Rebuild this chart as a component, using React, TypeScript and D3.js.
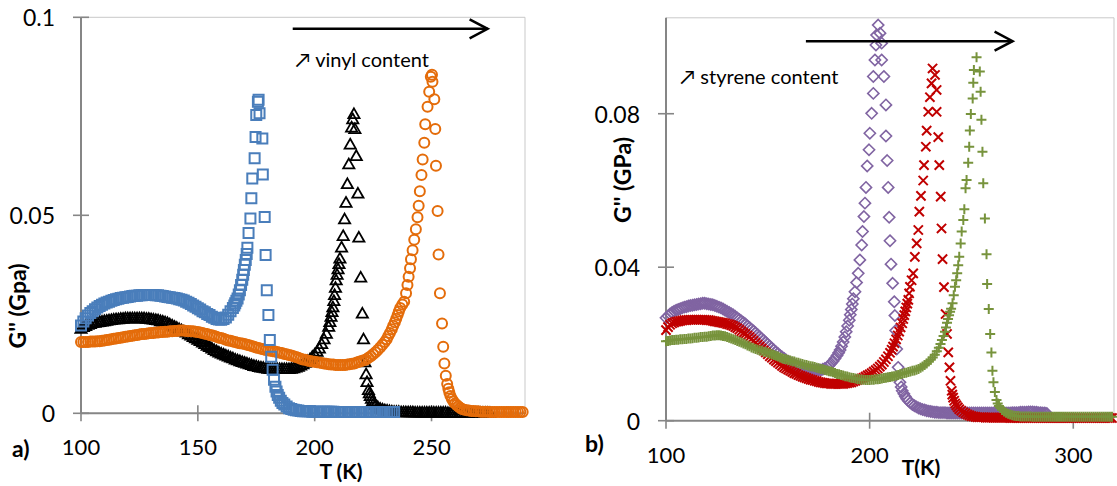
import React from "react";
import * as d3 from "d3";

type P = [number, number];

// ---------- ticks ----------
const xTicksA = [100, 150, 200, 250];
const yTicksA = [0, 0.05, 0.1];
const xTicksB = [100, 200, 300];
const yTicksB = [0, 0.04, 0.08];

// ---------- panel a) data: [T (K), G'' (GPa)] ----------
const blueSquares: P[] = [
  [100,.0222],[101,.0232],[102,.0240],[103,.0247],[104,.0253],[105,.0258],[106,.0263],[107,.0267],[108,.0271],[109,.0274],
  [110,.0277],[111,.0280],[112,.0282],[113,.0284],[114,.0286],[115,.0288],[116,.0289],[117,.0291],[118,.0292],[119,.0293],
  [120,.0294],[121,.0295],[122,.0296],[123,.0297],[124,.0297],[125,.0298],[126,.0298],[127,.0299],[128,.0299],[129,.0299],
  [130,.0299],[131,.0299],[132,.0298],[133,.0298],[134,.0297],[135,.0296],[136,.0295],[137,.0294],[138,.0293],[139,.0292],
  [140,.0291],[141,.0290],[142,.0288],[143,.0287],[144,.0285],[145,.0282],[146,.0279],[147,.0276],[148,.0272],[149,.0269],
  [150,.0265],[151,.0262],[152,.0258],[153,.0255],[154,.0251],[155,.0248],[156,.0244],[157,.0241],[158,.0238],[159,.0237],
  [160,.0236],[161,.0238],[162,.0242],[163,.0249],[164,.0258],[165,.0266],[165.6,.0272],[166,.0278],[166.5,.0284],[167,.0290],
  [167.5,.0300],[168,.0311],[168.5,.0324],[169,.0337],[169.4,.0350],[169.7,.0362],[170.1,.0375],[170.5,.0387],[170.9,.0402],
  [171.2,.0418],[171.7,.0455],[172.5,.0492],[172.9,.0543],[173.3,.0593],[174.3,.0644],[174.7,.0698],[175,.0753],[175.7,.0787],
  [176,.0792],[176.4,.0758],[177.6,.0694],[177.8,.0603],[178.6,.0496],[179,.0400],[179.5,.0311],[180.2,.0248],[180.8,.0185],
  [181.4,.0143],[182,.0110],[182.6,.0085],[183.2,.0067],[183.7,.0055],[184.2,.0046],[184.8,.0039],[185.5,.0032],[186.2,.0026],
  [187,.0022],[188,.0017],[189,.0013],[190,.0011],[191,.0009],[192,.0008],[193,.0007],[194,.0006],[195,.0005],[196,.0005],
  [197,.0005],[198,.0005],[199,.0004],[200,.0004],[201,.0004],[202,.0004],[203,.0004],[204,.0004],[205,.0004],[206,.0004],
  [207,.0004],[208,.0004],[209,.0003],[210,.0003],[211,.0003],[212,.0003],[213,.0003],[214,.0003],[215,.0003],[216,.0003],
  [217,.0003],[218,.0003],[219,.0003],[220,.0003],[221,.0003],[222,.0003],[223,.0003],[224,.0003],[225,.0003],[226,.0003],
  [227,.0003],[228,.0003],[229,.0003],[230,.0003],[231,.0003],[232,.0003],[233,.0003],[234,.0003],
];

const blackTriangles: P[] = [
  [100,.0215],[101,.0219],[102,.0222],[103,.0225],[104,.0227],[105,.0229],[106,.0230],[107,.0231],[108,.0232],[109,.0233],
  [110,.0234],[111,.0235],[112,.0236],[113,.0237],[114,.0238],[115,.0239],[116,.0239],[117,.0240],[118,.0240],[119,.0241],
  [120,.0241],[121,.0241],[122,.0241],[123,.0241],[124,.0241],[125,.0241],[126,.0241],[127,.0241],[128,.0240],[129,.0240],
  [130,.0239],[131,.0238],[132,.0237],[133,.0236],[134,.0234],[135,.0233],[136,.0231],[137,.0229],[138,.0226],[139,.0223],
  [140,.0220],[141,.0217],[142,.0214],[143,.0211],[144,.0208],[145,.0205],[146,.0201],[147,.0198],[148,.0194],[149,.0191],
  [150,.0187],[151,.0184],[152,.0180],[153,.0176],[154,.0172],[155,.0169],[156,.0165],[157,.0161],[158,.0158],[159,.0155],
  [160,.0152],[161,.0150],[162,.0147],[163,.0145],[164,.0142],[165,.0140],[166,.0137],[167,.0135],[168,.0133],[169,.0131],
  [170,.0129],[171,.0127],[172,.0125],[173,.0123],[174,.0121],[175,.0120],[176,.0118],[177,.0117],[178,.0116],[179,.0115],
  [180,.0114],[181,.0113],[182,.0113],[183,.0113],[184,.0113],[185,.0113],[186,.0113],[187,.0113],[188,.0113],[189,.0113],
  [190,.0114],[191,.0115],[192,.0117],[193,.0119],[194,.0122],[195,.0125],[196,.0129],[197,.0133],[198,.0138],[199,.0144],
  [200,.0150],[201,.0157],[202,.0165],[203,.0176],[204,.0188],[205,.0202],[206,.0220],[206.5,.0232],[207,.0245],[207.4,.0257],
  [207.8,.0269],[208.2,.0285],[208.5,.0300],[208.9,.0318],[209.2,.0337],[209.6,.0351],[210,.0365],[210.4,.0378],[210.8,.0392],
  [211.5,.0420],[212.2,.0449],[212.8,.0491],[213.4,.0533],[214,.0580],[214.6,.0630],[215.2,.0680],[215.8,.0723],[216.3,.0744],
  [216.8,.0757],[217.2,.0719],[217.8,.0651],[218.5,.0556],[218.9,.0445],[219.7,.0344],[220.4,.0253],[220.9,.0188],[221.5,.0130],
  [222,.0100],[222.4,.0080],[223,.0060],[223.4,.0052],[223.8,.0045],[224.3,.0038],[224.8,.0032],[225.4,.0027],[226,.0022],
  [227,.0017],[228,.0013],[229,.0011],[230,.0009],[231,.0008],[232,.0007],[233,.0006],[234,.0005],[235,.0005],[236,.0005],
  [237,.0004],[238,.0004],[239,.0004],[240,.0004],[241,.0004],[242,.0004],[243,.0003],[244,.0003],[245,.0003],[246,.0003],
  [247,.0003],[248,.0003],[249,.0003],[250,.0003],[251,.0003],[252,.0003],[253,.0003],[254,.0003],[255,.0003],[256,.0003],
  [257,.0002],[258,.0002],[259,.0002],[260,.0002],[261,.0002],[262,.0002],[263,.0002],[264,.0002],[265,.0002],[266,.0002],
  [267,.0002],[268,.0002],[269,.0002],[270,.0002],[271,.0002],[272,.0002],[273,.0002],[274,.0002],[275,.0002],
];

const orangeCircles: P[] = [
  [100,.0180],[101,.0180],[102,.0180],[103,.0180],[104,.0181],[105,.0181],[106,.0181],[107,.0182],[108,.0182],[109,.0183],
  [110,.0184],[111,.0185],[112,.0186],[113,.0187],[114,.0188],[115,.0189],[116,.0190],[117,.0191],[118,.0192],[119,.0193],
  [120,.0194],[121,.0195],[122,.0196],[123,.0197],[124,.0198],[125,.0199],[126,.0200],[127,.0200],[128,.0201],[129,.0202],
  [130,.0203],[131,.0203],[132,.0204],[133,.0204],[134,.0205],[135,.0205],[136,.0206],[137,.0206],[138,.0207],[139,.0207],
  [140,.0208],[141,.0208],[142,.0209],[143,.0209],[144,.0209],[145,.0208],[146,.0208],[147,.0207],[148,.0207],[149,.0206],
  [150,.0205],[151,.0204],[152,.0203],[153,.0201],[154,.0200],[155,.0198],[156,.0197],[157,.0195],[158,.0193],[159,.0191],
  [160,.0190],[161,.0188],[162,.0186],[163,.0184],[164,.0183],[165,.0181],[166,.0180],[167,.0178],[168,.0177],[169,.0176],
  [170,.0175],[171,.0173],[172,.0172],[173,.0170],[174,.0168],[175,.0166],[176,.0165],[177,.0163],[178,.0162],[179,.0160],
  [180,.0159],[181,.0158],[182,.0157],[183,.0156],[184,.0155],[185,.0153],[186,.0152],[187,.0150],[188,.0149],[189,.0147],
  [190,.0146],[191,.0144],[192,.0142],[193,.0140],[194,.0138],[195,.0136],[196,.0135],[197,.0133],[198,.0132],[199,.0131],
  [200,.0130],[201,.0129],[202,.0128],[203,.0127],[204,.0126],[205,.0125],[206,.0124],[207,.0123],[208,.0123],[209,.0122],
  [210,.0122],[211,.0122],[212,.0122],[213,.0122],[214,.0123],[215,.0124],[216,.0125],[217,.0126],[218,.0128],[219,.0130],
  [220,.0132],[221,.0134],[222,.0136],[223,.0140],[224,.0144],[225,.0149],[226,.0154],[227,.0160],[228,.0166],[229,.0173],
  [230,.0180],[230.8,.0187],[231.5,.0195],[232.2,.0203],[233,.0212],[233.6,.0221],[234.3,.0230],[234.9,.0239],[235.5,.0248],
  [236,.0257],[236.6,.0266],[237.5,.0275],[238.3,.0282],[239.1,.0303],[239.7,.0324],[240.2,.0345],[240.8,.0366],[241.2,.0389],
  [241.9,.0412],[242.6,.0438],[243.3,.0465],[244,.0495],[244.5,.0524],[245,.0561],[245.7,.0602],[246.2,.0641],[246.9,.0683],
  [247.3,.0730],[248.3,.0774],[249,.0812],[249.7,.0850],[250.2,.0855],[250.4,.0837],[251.2,.0793],[251.6,.0718],[251.9,.0625],
  [252.6,.0511],[253,.0401],[253.6,.0303],[254.5,.0227],[255,.0168],[255.5,.0126],[256.1,.0095],[256.7,.0074],[257.2,.0062],
  [257.6,.0053],[258.1,.0044],[258.7,.0036],[259.4,.0030],[260,.0025],[260.8,.0021],[261.5,.0017],[262.2,.0014],[263,.0011],
  [264,.0009],[265,.0008],[266,.0007],[267,.0006],[268,.0006],[269,.0005],[270,.0005],[271,.0004],[272,.0004],[273,.0004],
  [274,.0004],[275,.0003],[276,.0003],[277,.0003],[278,.0003],[279,.0003],[280,.0003],[281,.0003],[282,.0003],[283,.0003],
  [284,.0003],[285,.0003],[286,.0003],[287,.0003],[288,.0003],[289,.0003],
];

// ---------- panel b) data ----------
const purpleDiamonds: P[] = [
  [100,.0268],[101,.0273],[102,.0278],[103,.0282],[104,.0285],[105,.0288],[106,.0290],[107,.0292],[108,.0294],[109,.0296],
  [110,.0297],[111,.0299],[112,.0300],[113,.0301],[114,.0302],[115,.0303],[116,.0304],[117,.0305],[118,.0306],[119,.0306],
  [120,.0305],[121,.0304],[122,.0303],[123,.0302],[124,.0300],[125,.0298],[126,.0296],[127,.0294],[128,.0291],[129,.0288],
  [130,.0285],[131,.0282],[132,.0279],[133,.0276],[134,.0272],[135,.0268],[136,.0264],[137,.0260],[138,.0256],[139,.0252],
  [140,.0247],[141,.0243],[142,.0238],[143,.0234],[144,.0229],[145,.0224],[146,.0219],[147,.0214],[148,.0209],[149,.0204],
  [150,.0199],[151,.0194],[152,.0189],[153,.0184],[154,.0179],[155,.0175],[156,.0170],[157,.0166],[158,.0162],[159,.0158],
  [160,.0155],[161,.0152],[162,.0149],[163,.0146],[164,.0144],[165,.0142],[166,.0140],[167,.0138],[168,.0136],[169,.0135],
  [170,.0134],[171,.0133],[172,.0133],[173,.0132],[174,.0132],[175,.0132],[176,.0132],[177,.0134],[178,.0136],[179,.0139],
  [180,.0143],[181,.0149],[182,.0155],[183,.0162],[184,.0170],[184.8,.0177],[185.5,.0184],[186.2,.0194],[187,.0205],
  [187.8,.0218],[188.5,.0232],[189.2,.0247],[190,.0262],[190.5,.0276],[191,.0290],[191.5,.0304],[192,.0318],[192.8,.0336],
  [193.6,.0360],[194.4,.0384],[195.2,.0419],[196.1,.0458],[196.5,.0493],[197.2,.0532],[197.7,.0567],[198.2,.0608],
  [198.8,.0664],[199.7,.0706],[200.1,.0749],[201,.0801],[201.8,.0853],[201.8,.0897],[202.6,.0940],[203.1,.0979],[203.4,.1005],
  [204.2,.1031],[205.1,.1010],[205.9,.0984],[205.9,.0940],[207,.0897],[208,.0823],[208,.0742],[208.6,.0678],[209.1,.0608],
  [209.6,.0530],[210,.0469],[210.5,.0408],[211.3,.0358],[212.1,.0310],[212.4,.0274],[212.8,.0235],[213.3,.0187],[214,.0139],
  [214.9,.0100],[215.5,.0088],[216,.0078],[216.8,.0070],[217.5,.0063],[218.2,.0057],[219,.0052],[220,.0047],[221,.0042],
  [222,.0039],[223,.0036],[224,.0033],[225,.0031],[226,.0029],[227,.0028],[228,.0026],[229,.0025],[230,.0024],[231,.0023],
  [232,.0022],[233,.0022],[234,.0021],[235,.0021],[236,.0021],[237,.0021],[238,.0020],[239,.0020],[240,.0020],[241,.0020],
  [242,.0020],[243,.0020],[244,.0020],[245,.0020],[246,.0020],[247,.0020],[248,.0020],[249,.0020],[250,.0020],[251,.0020],
  [252,.0020],[253,.0020],[254,.0020],[255,.0020],[256,.0020],[257,.0020],[258,.0020],[259,.0020],[260,.0020],[261,.0020],
  [262,.0020],[263,.0020],[264,.0020],[265,.0020],[266,.0020],[267,.0020],[268,.0020],[269,.0020],[270,.0021],[271,.0021],
  [272,.0021],[273,.0021],[274,.0022],[275,.0022],[276,.0022],[277,.0022],[278,.0023],[279,.0023],[280,.0023],[281,.0022],
  [282,.0022],[283,.0021],[284,.0021],[285,.0020],[286,.0020],[287,.0019],
];

const redCrosses: P[] = [
  [100,.0236],[101,.0244],[102,.0250],[103,.0254],[104,.0256],[105,.0258],[106,.0259],[107,.0260],[108,.0261],[109,.0262],
  [110,.0262],[111,.0263],[112,.0263],[113,.0263],[114,.0263],[115,.0263],[116,.0263],[117,.0263],[118,.0263],[119,.0263],
  [120,.0262],[121,.0262],[122,.0261],[123,.0260],[124,.0259],[125,.0258],[126,.0257],[127,.0256],[128,.0255],[129,.0254],
  [130,.0252],[131,.0251],[132,.0249],[133,.0247],[134,.0244],[135,.0241],[136,.0237],[137,.0233],[138,.0229],[139,.0226],
  [140,.0222],[141,.0218],[142,.0213],[143,.0208],[144,.0203],[145,.0198],[146,.0193],[147,.0188],[148,.0183],[149,.0178],
  [150,.0173],[151,.0168],[152,.0164],[153,.0159],[154,.0155],[155,.0151],[156,.0147],[157,.0143],[158,.0139],[159,.0136],
  [160,.0133],[161,.0130],[162,.0127],[163,.0124],[164,.0122],[165,.0119],[166,.0117],[167,.0115],[168,.0113],[169,.0111],
  [170,.0109],[171,.0107],[172,.0106],[173,.0104],[174,.0103],[175,.0101],[176,.0100],[177,.0099],[178,.0098],[179,.0097],
  [180,.0097],[181,.0096],[182,.0096],[183,.0096],[184,.0096],[185,.0096],[186,.0096],[187,.0096],[188,.0097],[189,.0098],
  [190,.0099],[191,.0100],[192,.0102],[193,.0104],[194,.0106],[195,.0108],[196,.0110],[197,.0112],[198,.0115],[199,.0118],
  [200,.0121],[201,.0124],[202,.0128],[203,.0132],[204,.0136],[205,.0141],[206,.0146],[207,.0153],[208,.0160],[209,.0168],
  [210,.0177],[210.8,.0185],[211.5,.0193],[212.2,.0202],[213,.0212],[213.8,.0222],[214.5,.0232],[215.2,.0243],[216,.0254],
  [216.5,.0265],[217,.0275],[217.5,.0285],[218,.0295],[218.5,.0305],[219,.0315],[219.4,.0332],[219.8,.0349],[220.6,.0366],
  [221.4,.0384],[222.2,.0427],[223.1,.0462],[223.9,.0497],[224.4,.0545],[225.2,.0586],[226.3,.0626],[226.7,.0666],
  [227.6,.0714],[228,.0756],[228.8,.0805],[229.6,.0843],[230.4,.0879],[230.9,.0918],[232.1,.0901],[232.9,.0862],[232.9,.0805],
  [233.7,.0739],[234.2,.0666],[234.9,.0584],[235.3,.0501],[235.8,.0421],[236.5,.0348],[237.3,.0278],[238,.0226],[238.6,.0178],
  [239.2,.0139],[239.7,.0104],[240.3,.0078],[240.6,.0068],[241,.0060],[241.5,.0052],[242,.0045],[242.6,.0040],[243.3,.0035],
  [244,.0030],[245,.0026],[246,.0022],[247,.0019],[248,.0016],[249,.0014],[250,.0012],[251,.0011],[252,.0010],[253,.0009],
  [254,.0009],[255,.0009],[256,.0009],[257,.0008],[258,.0008],[259,.0008],[260,.0008],[261,.0008],[262,.0008],[263,.0008],
  [264,.0008],[265,.0008],[266,.0008],[267,.0008],[268,.0008],[269,.0007],[270,.0007],[271,.0007],[272,.0007],[273,.0007],
  [274,.0007],[275,.0007],[276,.0007],[277,.0007],[278,.0007],[279,.0007],[280,.0007],[281,.0007],[282,.0007],[283,.0007],
  [284,.0007],[285,.0007],[286,.0007],[287,.0007],[288,.0007],[289,.0007],[290,.0007],[291,.0007],[292,.0007],[293,.0007],
  [294,.0007],[295,.0007],[296,.0007],[297,.0007],[298,.0007],[299,.0007],[300,.0007],[301,.0007],[302,.0007],[303,.0007],
  [304,.0007],[305,.0007],[306,.0007],[307,.0007],[308,.0007],[309,.0007],[310,.0007],[311,.0007],[312,.0007],[313,.0007],
  [314,.0007],[315,.0007],[316,.0007],[317,.0007],[318,.0007],[319,.0007],
];

const greenPluses: P[] = [
  [100,.0207],[101,.0208],[102,.0209],[103,.0210],[104,.0210],[105,.0211],[106,.0211],[107,.0212],[108,.0212],[109,.0213],
  [110,.0213],[111,.0214],[112,.0214],[113,.0215],[114,.0216],[115,.0216],[116,.0217],[117,.0218],[118,.0218],[119,.0219],
  [120,.0219],[121,.0220],[122,.0221],[123,.0222],[124,.0222],[125,.0223],[126,.0223],[127,.0222],[128,.0221],[129,.0220],
  [130,.0218],[131,.0216],[132,.0214],[133,.0212],[134,.0210],[135,.0208],[136,.0206],[137,.0204],[138,.0201],[139,.0199],
  [140,.0196],[141,.0194],[142,.0191],[143,.0189],[144,.0187],[145,.0185],[146,.0183],[147,.0182],[148,.0180],[149,.0179],
  [150,.0177],[151,.0175],[152,.0173],[153,.0171],[154,.0169],[155,.0167],[156,.0165],[157,.0163],[158,.0161],[159,.0160],
  [160,.0158],[161,.0157],[162,.0155],[163,.0154],[164,.0152],[165,.0151],[166,.0149],[167,.0148],[168,.0146],[169,.0145],
  [170,.0143],[171,.0142],[172,.0141],[173,.0140],[174,.0138],[175,.0137],[176,.0135],[177,.0134],[178,.0132],[179,.0131],
  [180,.0129],[181,.0128],[182,.0126],[183,.0124],[184,.0122],[185,.0121],[186,.0119],[187,.0118],[188,.0116],[189,.0115],
  [190,.0113],[191,.0112],[192,.0111],[193,.0110],[194,.0109],[195,.0108],[196,.0107],[197,.0107],[198,.0106],[199,.0106],
  [200,.0106],[201,.0107],[202,.0107],[203,.0108],[204,.0108],[205,.0109],[206,.0110],[207,.0111],[208,.0112],[209,.0113],
  [210,.0114],[211,.0115],[212,.0116],[213,.0118],[214,.0119],[215,.0121],[216,.0122],[217,.0124],[218,.0125],[219,.0127],
  [220,.0128],[221,.0130],[222,.0131],[223,.0133],[224,.0135],[225,.0138],[226,.0141],[227,.0145],[228,.0149],[229,.0154],
  [230,.0159],[231,.0165],[232,.0172],[233,.0181],[234,.0190],[234.8,.0200],[235.5,.0210],[236.3,.0221],[237,.0232],
  [237.5,.0243],[238,.0255],[238.5,.0265],[239,.0275],[239.5,.0284],[240,.0292],[240.7,.0306],[241.3,.0327],[241.9,.0349],
  [242.5,.0366],[243,.0384],[243.5,.0405],[244,.0427],[244.7,.0462],[245.2,.0493],[246,.0523],[246.5,.0551],[247.1,.0606],
  [247.6,.0627],[248.4,.0672],[248.9,.0714],[249.2,.0756],[249.7,.0799],[250.6,.0840],[250.9,.0881],[251.2,.0914],[252.5,.0947],
  [254.1,.0910],[254.5,.0857],[254.9,.0784],[255.4,.0701],[255.8,.0619],[256.6,.0527],[257.4,.0434],[257.7,.0356],
  [258.5,.0291],[259.2,.0226],[259.8,.0178],[260.3,.0130],[260.8,.0100],[261.5,.0075],[262.3,.0054],[262.9,.0045],
  [263.5,.0038],[264.2,.0033],[265,.0028],[266,.0024],[267,.0021],[268,.0018],[269,.0016],[270,.0014],[271,.0013],
  [272,.0012],[273,.0012],[274,.0011],[275,.0011],[276,.0011],[277,.0011],[278,.0011],[279,.0011],[280,.0010],[281,.0010],
  [282,.0010],[283,.0010],[284,.0010],[285,.0010],[286,.0010],[287,.0010],[288,.0010],[289,.0010],[290,.0010],[291,.0010],
  [292,.0010],[293,.0010],[294,.0010],[295,.0010],[296,.0010],[297,.0010],[298,.0010],[299,.0010],[300,.0010],[301,.0010],
  [302,.0010],[303,.0010],[304,.0010],[305,.0010],[306,.0010],[307,.0010],[308,.0010],[309,.0010],[310,.0010],[311,.0010],
  [312,.0010],[313,.0010],[314,.0010],[315,.0010],[316,.0010],[317,.0010],[318,.0010],[319,.0010],
];

// annotation arrows in data units: [T start, T end, G]
const arrowA = [190.6, 274, 0.0971];
const arrowB = [168.7, 270.2, 0.0989];
const noteA = { text: "\u2197 vinyl content", T: 191.8, G: 0.0875 };
const noteB = { text: "\u2197 styrene content", T: 107, G: 0.0877 };

const FONT = "Lato, 'DejaVu Sans', sans-serif";
const AXIS = "#868686";
const BORDER = "#C9C9C9";

const SHAPES: Record<string, string> = {
  square: "M-5,-5H5V5H-5Z",
  triangle: "M0,-5.2L5.6,4.6H-5.6Z",
  diamond: "M0,-5.6L5.6,0L0,5.6L-5.6,0Z",
  cross: "M-4.6,-4.6L4.6,4.6M-4.6,4.6L4.6,-4.6",
  plus: "M-5,0H5M0,-5V5",
};

function Markers({ data, x, y, shape, color, sw }: any) {
  return (
    <g fill="none" stroke={color} strokeWidth={sw}>
      {data.map((d: P, i: number) =>
        shape === "circle" ? (
          <circle key={i} cx={x(d[0])} cy={y(d[1])} r={5} />
        ) : (
          <path key={i} d={SHAPES[shape]} transform={`translate(${x(d[0])},${y(d[1])})`} />
        )
      )}
    </g>
  );
}

function Frame({ x, y, xTicks, yTicks, yLabelX, xLabelBase }: any) {
  const [x0, x1] = x.range();
  const [y0, y1] = y.range();
  return (
    <g>
      <line x1={x0} x2={x1} y1={y1} y2={y1} stroke={BORDER} strokeWidth={1} />
      <line x1={x1} x2={x1} y1={y1} y2={y0} stroke={BORDER} strokeWidth={1} />
      <line x1={x0} x2={x0} y1={y0} y2={y1} stroke={AXIS} strokeWidth={2} />
      <line x1={x0} x2={x1} y1={y0} y2={y0} stroke={AXIS} strokeWidth={2} />
      {yTicks.map((t: number) => (
        <g key={"y" + t}>
          <line x1={x0 - 8} x2={x0 + 8} y1={y(t)} y2={y(t)} stroke={AXIS} strokeWidth={1.6} />
          <text x={yLabelX} y={y(t)} textAnchor="end" dominantBaseline="central" fontSize={23} fontFamily={FONT} fill="#000">
            {String(t)}
          </text>
        </g>
      ))}
      {xTicks.map((t: number) => (
        <g key={"x" + t}>
          <line x1={x(t)} x2={x(t)} y1={y0 - 8} y2={y0 + 8} stroke={AXIS} strokeWidth={1.6} />
          <text x={x(t)} y={xLabelBase} textAnchor="middle" fontSize={22} fontFamily={FONT} fill="#000">
            {String(t)}
          </text>
        </g>
      ))}
    </g>
  );
}

function Arrow({ a, x, y }: any) {
  const xs = x(a[0]);
  const xe = x(a[1]);
  const yy = y(a[2]);
  return (
    <g stroke="#000" strokeWidth={2.5} fill="none">
      <line x1={xs} x2={xe} y1={yy} y2={yy} />
      <path d={`M${xe - 18},${yy - 9.5}L${xe},${yy}L${xe - 18},${yy + 9.5}`} />
    </g>
  );
}

export default function App() {
  const xA = d3.scaleLinear().domain([100, 290]).range([81, 525]);
  const yA = d3.scaleLinear().domain([0, 0.1]).range([413.3, 17.3]);
  const xB = d3.scaleLinear().domain([100, 320]).range([666, 1114]);
  const yB = d3.scaleLinear().domain([0, 0.105]).range([420.7, 17.8]);

  return (
    <svg
      width={1117}
      height={486}
      style={{ position: "absolute", left: 0, top: 0, background: "#fff" }}
      fontFamily={FONT}
    >
      <rect x={0} y={0} width={1117} height={486} fill="#fff" />
      {/* panel a */}
      <Frame x={xA} y={yA} xTicks={xTicksA} yTicks={yTicksA} yLabelX={55} xLabelBase={455} />
      <Markers data={blackTriangles} x={xA} y={yA} shape="triangle" color="#000" sw={1.8} />
      <Markers data={orangeCircles} x={xA} y={yA} shape="circle" color="#E46C0A" sw={2} />
      <Markers data={blueSquares} x={xA} y={yA} shape="square" color="#4A7EBB" sw={2} />
      <Arrow a={arrowA} x={xA} y={yA} />
      <text x={xA(noteA.T)} y={yA(noteA.G)} fontSize={20} fill="#000">{noteA.text}</text>
      <text x={12} y={457} fontSize={23} fontWeight="bold" fill="#000">a)</text>
      <text x={341} y={479} textAnchor="middle" fontSize={21} fontWeight="bold" fill="#000">T (K)</text>
      <text transform="translate(17,306) rotate(-90)" textAnchor="middle" dominantBaseline="central" fontSize={23} fontWeight="bold" fill="#000">
        G'' (Gpa)
      </text>

      {/* panel b */}
      <Frame x={xB} y={yB} xTicks={xTicksB} yTicks={yTicksB} yLabelX={640} xLabelBase={463} />
      <Markers data={purpleDiamonds} x={xB} y={yB} shape="diamond" color="#8064A2" sw={1.6} />
      <Markers data={redCrosses} x={xB} y={yB} shape="cross" color="#C00000" sw={2} />
      <Markers data={greenPluses} x={xB} y={yB} shape="plus" color="#77933C" sw={2} />
      <Arrow a={arrowB} x={xB} y={yB} />
      <text x={xB(noteB.T)} y={yB(noteB.G)} fontSize={20} fill="#000">{noteB.text}</text>
      <text x={585} y={452} fontSize={23} fontWeight="bold" fill="#000">b)</text>
      <text x={921} y={475} textAnchor="middle" fontSize={21} fontWeight="bold" fill="#000">T(K)</text>
      <text transform="translate(622,180) rotate(-90)" textAnchor="middle" dominantBaseline="central" fontSize={23} fontWeight="bold" fill="#000">
        G'' (GPa)
      </text>
    </svg>
  );
}
